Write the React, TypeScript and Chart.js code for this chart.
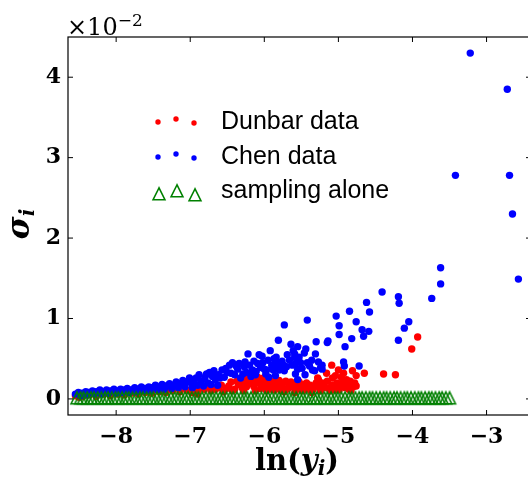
import React, { useEffect, useRef } from 'react';
import { Chart, registerables } from 'chart.js';

Chart.register(...registerables);

const xTicks = [-8, -7, -6, -5, -4, -3];
const yTicks = [0, 1, 2, 3, 4];
const xRange = [-8.65, -2.4];
const yRange = [-0.2, 4.5];
const seriesNames = ['Dunbar data', 'Chen data', 'sampling alone'];

const dunbarPoints: [number, number][] = [
  [-8.55, 0.04], [-8.5, 0.02], [-8.45, 0.03], [-8.36, 0.05], [-8.27, 0.03], [-8.17, 0.06], [-8.08, 0.04],
  [-7.98, 0.06], [-7.89, 0.05], [-7.8, 0.07], [-7.7, 0.06], [-7.61, 0.08], [-7.52, 0.07], [-7.42, 0.09],
  [-7.33, 0.08], [-7.3, 0.14], [-7.24, 0.1], [-7.14, 0.09], [-7.05, 0.11], [-6.98, 0.08], [-6.96, 0.1],
  [-6.9, 0.06], [-6.88, 0.13], [-6.81, 0.12], [-6.76, 0.15], [-6.72, 0.1], [-6.66, 0.12], [-6.62, 0.14],
  [-6.58, 0.17], [-6.55, 0.09], [-6.51, 0.13], [-6.48, 0.16], [-6.45, 0.21], [-6.43, 0.1], [-6.4, 0.12],
  [-6.37, 0.22], [-6.35, 0.18], [-6.32, 0.2], [-6.3, 0.14], [-6.28, 0.1], [-6.26, 0.22], [-6.24, 0.15],
  [-6.23, 0.27], [-6.2, 0.19], [-6.18, 0.26], [-6.16, 0.21], [-6.14, 0.15], [-6.12, 0.1], [-6.11, 0.24],
  [-6.09, 0.27], [-6.08, 0.2], [-6.06, 0.23], [-6.05, 0.13], [-6.03, 0.18], [-6.01, 0.26], [-5.99, 0.22],
  [-5.97, 0.1], [-5.96, 0.15], [-5.94, 0.25], [-5.92, 0.21], [-5.9, 0.12], [-5.89, 0.17], [-5.87, 0.22],
  [-5.86, 0.11], [-5.84, 0.2], [-5.82, 0.19], [-5.8, 0.23], [-5.79, 0.14], [-5.77, 0.1], [-5.76, 0.16],
  [-5.74, 0.2], [-5.73, 0.09], [-5.71, 0.22], [-5.7, 0.12], [-5.68, 0.13], [-5.66, 0.17], [-5.64, 0.21],
  [-5.62, 0.15], [-5.6, 0.18], [-5.59, 0.08], [-5.57, 0.12], [-5.55, 0.16], [-5.53, 0.21], [-5.51, 0.15],
  [-5.5, 0.11], [-5.48, 0.1], [-5.46, 0.18], [-5.44, 0.13], [-5.43, 0.2], [-5.4, 0.12], [-5.38, 0.17],
  [-5.36, 0.08], [-5.34, 0.12], [-5.31, 0.16], [-5.3, 0.2], [-5.28, 0.26], [-5.27, 0.24], [-5.25, 0.14],
  [-5.24, 0.1], [-5.22, 0.2], [-5.2, 0.18], [-5.19, 0.14], [-5.16, 0.32], [-5.15, 0.22], [-5.13, 0.13],
  [-5.11, 0.1], [-5.09, 0.42], [-5.09, 0.17], [-5.08, 0.26], [-5.06, 0.16], [-5.05, 0.11], [-5.04, 0.29],
  [-5.02, 0.2], [-5.0, 0.36], [-4.99, 0.11], [-4.98, 0.15], [-4.96, 0.27], [-4.95, 0.2], [-4.93, 0.32],
  [-4.91, 0.14], [-4.89, 0.24], [-4.87, 0.18], [-4.86, 0.12], [-4.84, 0.22], [-4.83, 0.1], [-4.81, 0.35],
  [-4.8, 0.15], [-4.78, 0.2], [-4.76, 0.29], [-4.76, 0.16], [-4.65, 0.32], [-4.39, 0.31], [-4.23, 0.3],
  [-4.01, 0.62], [-3.93, 0.77],
];

const chenPoints: [number, number][] = [
  [-8.55, 0.06], [-8.51, 0.08], [-8.48, 0.04], [-8.46, 0.07], [-8.41, 0.09], [-8.39, 0.05], [-8.37, 0.08],
  [-8.32, 0.1], [-8.29, 0.06], [-8.27, 0.09], [-8.22, 0.11], [-8.2, 0.06], [-8.18, 0.08], [-8.13, 0.11],
  [-8.1, 0.07], [-8.08, 0.1], [-8.03, 0.12], [-8.0, 0.07], [-7.99, 0.1], [-7.94, 0.12], [-7.91, 0.08],
  [-7.89, 0.11], [-7.85, 0.13], [-7.82, 0.08], [-7.8, 0.11], [-7.75, 0.14], [-7.72, 0.09], [-7.7, 0.12],
  [-7.66, 0.15], [-7.63, 0.1], [-7.61, 0.13], [-7.56, 0.15], [-7.54, 0.1], [-7.52, 0.14], [-7.47, 0.17],
  [-7.44, 0.11], [-7.42, 0.15], [-7.38, 0.18], [-7.35, 0.12], [-7.33, 0.16], [-7.28, 0.19], [-7.25, 0.13],
  [-7.23, 0.17], [-7.19, 0.21], [-7.16, 0.14], [-7.14, 0.19], [-7.1, 0.23], [-7.07, 0.15], [-7.05, 0.21],
  [-7.01, 0.26], [-6.98, 0.19], [-6.97, 0.14], [-6.94, 0.24], [-6.92, 0.26], [-6.9, 0.17], [-6.88, 0.3],
  [-6.85, 0.22], [-6.82, 0.16], [-6.8, 0.27], [-6.78, 0.31], [-6.76, 0.2], [-6.74, 0.33], [-6.72, 0.18],
  [-6.7, 0.28], [-6.68, 0.35], [-6.66, 0.24], [-6.63, 0.17], [-6.62, 0.3], [-6.6, 0.26], [-6.57, 0.36],
  [-6.54, 0.27], [-6.52, 0.38], [-6.5, 0.33], [-6.47, 0.42], [-6.45, 0.32], [-6.43, 0.45], [-6.4, 0.3],
  [-6.38, 0.41], [-6.36, 0.37], [-6.34, 0.44], [-6.32, 0.26], [-6.29, 0.31], [-6.27, 0.4], [-6.26, 0.46],
  [-6.24, 0.33], [-6.22, 0.56], [-6.2, 0.42], [-6.18, 0.28], [-6.16, 0.36], [-6.14, 0.47], [-6.12, 0.3],
  [-6.11, 0.34], [-6.09, 0.44], [-6.07, 0.55], [-6.05, 0.39], [-6.03, 0.53], [-6.02, 0.45], [-6.0, 0.37],
  [-5.98, 0.31], [-5.97, 0.36], [-5.95, 0.48], [-5.94, 0.27], [-5.92, 0.6], [-5.9, 0.42], [-5.88, 0.36],
  [-5.87, 0.5], [-5.85, 0.29], [-5.84, 0.52], [-5.84, 0.46], [-5.82, 0.4], [-5.81, 0.73], [-5.8, 0.36],
  [-5.78, 0.42], [-5.76, 0.47], [-5.74, 0.42], [-5.73, 0.92], [-5.73, 0.35], [-5.7, 0.4], [-5.69, 0.55],
  [-5.66, 0.48], [-5.64, 0.68], [-5.62, 0.42], [-5.61, 0.6], [-5.59, 0.56], [-5.59, 0.52], [-5.58, 0.31],
  [-5.57, 0.45], [-5.55, 0.65], [-5.55, 0.37], [-5.55, 0.24], [-5.53, 0.52], [-5.51, 0.45], [-5.49, 0.38],
  [-5.46, 0.57], [-5.45, 0.3], [-5.44, 0.62], [-5.42, 0.45], [-5.42, 0.98], [-5.39, 0.41], [-5.36, 0.48],
  [-5.35, 0.36], [-5.32, 0.35], [-5.31, 0.56], [-5.3, 0.71], [-5.27, 0.46], [-5.24, 0.39], [-5.22, 0.42],
  [-5.22, 0.37], [-5.15, 0.7], [-5.14, 0.72], [-5.03, 1.03], [-4.99, 0.91], [-4.99, 0.8], [-4.93, 0.46],
  [-4.92, 0.41], [-4.91, 0.65], [-4.85, 1.09], [-4.82, 0.75], [-4.76, 0.96], [-4.72, 0.41], [-4.68, 0.86],
  [-4.66, 0.78], [-4.62, 1.2], [-4.59, 0.84], [-4.58, 1.08], [-4.41, 1.33], [-4.19, 1.27], [-4.18, 1.19],
  [-4.19, 0.73], [-4.11, 0.88], [-4.05, 0.96], [-3.74, 1.25], [-3.62, 1.63], [-3.62, 1.43], [-3.42, 2.78],
  [-3.22, 4.3], [-2.72, 3.85], [-2.69, 2.78], [-2.65, 2.3], [-2.57, 1.49],
];

const samplingX = [
  -8.53, -8.48, -8.44, -8.39, -8.34, -8.3, -8.25, -8.2, -8.15, -8.11,
  -8.06, -8.01, -7.97, -7.92, -7.87, -7.83, -7.78, -7.73, -7.68, -7.64,
  -7.59, -7.54, -7.5, -7.45, -7.4, -7.36, -7.31, -7.26, -7.21, -7.17,
  -7.12, -7.07, -7.03, -6.98, -6.93, -6.89, -6.84, -6.79, -6.74, -6.7,
  -6.65, -6.6, -6.56, -6.51, -6.46, -6.42, -6.37, -6.32, -6.27, -6.23,
  -6.18, -6.13, -6.09, -6.04, -5.99, -5.95, -5.9, -5.85, -5.8, -5.76,
  -5.71, -5.66, -5.62, -5.57, -5.52, -5.48, -5.43, -5.38, -5.33, -5.29,
  -5.24, -5.19, -5.15, -5.1, -5.05, -5.01, -4.96, -4.91, -4.86, -4.82,
  -4.77, -4.72, -4.68, -4.63, -4.58, -4.54, -4.49, -4.44, -4.39, -4.35,
  -4.3, -4.25, -4.21, -4.16, -4.11, -4.07, -4.02, -3.97, -3.92, -3.88,
  -3.83, -3.78, -3.74, -3.69, -3.64, -3.6, -3.55, -3.5,
];
const samplingY = [
  0.01, 0.01, 0.01, 0.01, 0.01, 0.01, 0.01, 0.01, 0.01, 0.01,
  0.01, 0.01, 0.01, 0.01, 0.01, 0.01, 0.01, 0.01, 0.01, 0.01,
  0.01, 0.01, 0.01, 0.01, 0.01, 0.01, 0.01, 0.01, 0.01, 0.01,
  0.01, 0.01, 0.01, 0.01, 0.01, 0.01, 0.01, 0.01, 0.01, 0.01,
  0.01, 0.01, 0.01, 0.01, 0.01, 0.01, 0.01, 0.01, 0.01, 0.01,
  0.01, 0.01, 0.01, 0.01, 0.01, 0.01, 0.01, 0.01, 0.01, 0.01,
  0.01, 0.01, 0.01, 0.01, 0.01, 0.01, 0.01, 0.01, 0.01, 0.01,
  0.01, 0.01, 0.01, 0.01, 0.01, 0.01, 0.01, 0.01, 0.01, 0.01,
  0.01, 0.01, 0.01, 0.01, 0.01, 0.01, 0.01, 0.01, 0.01, 0.01,
  0.01, 0.01, 0.01, 0.01, 0.01, 0.01, 0.01, 0.01, 0.01, 0.01,
  0.01, 0.01, 0.01, 0.01, 0.01, 0.01, 0.01, 0.01,
];

const RED = '#ff0000';
const BLUE = '#0000ff';
const GREEN = '#008000';

function fmt(v: number): string {
  return v < 0 ? '\u2212' + Math.abs(v) : String(v);
}

type Seg = { t: string; font: string; dy?: number };

function drawSegs(ctx: CanvasRenderingContext2D, segs: Seg[], x: number, y: number, center: boolean) {
  let total = 0;
  for (const s of segs) {
    ctx.font = s.font;
    total += ctx.measureText(s.t).width;
  }
  let cx = center ? x - total / 2 : x;
  ctx.textAlign = 'left';
  ctx.textBaseline = 'alphabetic';
  for (const s of segs) {
    ctx.font = s.font;
    ctx.fillText(s.t, cx, y + (s.dy || 0));
    cx += ctx.measureText(s.t).width;
  }
}

export default function App() {
  const ref = useRef<HTMLCanvasElement>(null);

  useEffect(() => {
    if (!ref.current) return;
    const tri = document.createElement('canvas');
    tri.width = 16;
    tri.height = 16;
    const tc = tri.getContext('2d')!;
    tc.strokeStyle = GREEN;
    tc.lineWidth = 1.5;
    tc.lineJoin = 'miter';
    tc.beginPath();
    tc.moveTo(8, 1.8);
    tc.lineTo(2, 13.8);
    tc.lineTo(14, 13.8);
    tc.closePath();
    tc.stroke();

    const decor = {
      id: 'decor',
      afterDraw(chart: any) {
        const { ctx, chartArea: a, scales } = chart;
        const xs = scales.x;
        const ys = scales.y;
        ctx.save();
        ctx.strokeStyle = '#000';
        ctx.lineWidth = 1.2;
        ctx.strokeRect(a.left, a.top, a.right - a.left, a.bottom - a.top);
        const tl = 5;
        ctx.lineWidth = 1;
        ctx.beginPath();
        for (const t of xs.ticks) {
          const px = xs.getPixelForValue(t.value);
          ctx.moveTo(px, a.bottom);
          ctx.lineTo(px, a.bottom - tl);
          ctx.moveTo(px, a.top);
          ctx.lineTo(px, a.top + tl);
        }
        for (const t of ys.ticks) {
          const py = ys.getPixelForValue(t.value);
          ctx.moveTo(a.left, py);
          ctx.lineTo(a.left + tl, py);
          ctx.moveTo(a.right, py);
          ctx.lineTo(a.right - tl, py);
        }
        ctx.stroke();

        ctx.fillStyle = '#000';
        drawSegs(ctx, [
          { t: '\u00d710', font: '24px "DejaVu Serif"' },
          { t: '\u22122', font: '17px "DejaVu Serif"', dy: -9 },
        ], a.left - 1, 35, false);

        drawSegs(ctx, [
          { t: 'ln(', font: 'bold 29px "DejaVu Serif"' },
          { t: 'y', font: 'italic bold 29px "DejaVu Serif"' },
          { t: 'i', font: 'italic bold 20px "DejaVu Serif"', dy: 5 },
          { t: ')', font: 'bold 29px "DejaVu Serif"' },
        ], 297, 470, true);

        ctx.save();
        ctx.translate(29, 224);
        ctx.rotate(-Math.PI / 2);
        drawSegs(ctx, [
          { t: '\u03c3', font: 'italic bold 31px "DejaVu Serif"' },
          { t: 'i', font: 'italic bold 20px "DejaVu Serif"', dy: 5 },
        ], 0, 0, true);
        ctx.restore();

        const dotsX = [158, 176, 194];
        const dotsDy = [0, -3, 1];
        const rows = [122, 157];
        const cols = [RED, BLUE];
        for (let r = 0; r < 2; r++) {
          ctx.fillStyle = cols[r];
          for (let k = 0; k < 3; k++) {
            ctx.beginPath();
            ctx.arc(dotsX[k], rows[r] + dotsDy[k], 2.7, 0, Math.PI * 2);
            ctx.fill();
          }
        }
        const triY = 194;
        for (let k = 0; k < 3; k++) {
          ctx.drawImage(tri, dotsX[k] + 1 - 8, triY + dotsDy[k] - 8);
        }
        ctx.fillStyle = '#000';
        ctx.font = '25px "Liberation Sans"';
        ctx.textAlign = 'left';
        ctx.textBaseline = 'alphabetic';
        ctx.fillText(seriesNames[0], 221, 129);
        ctx.fillText(seriesNames[1], 221, 164);
        ctx.fillText(seriesNames[2], 221, 198);
        ctx.restore();
      },
    };

    const tickFont = { family: '"DejaVu Serif"', weight: 'bold' as const, size: 22 };

    const chart = new Chart(ref.current, {
      type: 'scatter',
      data: {
        datasets: [
          {
            label: seriesNames[0],
            data: dunbarPoints.map(([x, y]) => ({ x, y })),
            backgroundColor: RED,
            borderWidth: 0,
            pointRadius: 3.7,
            order: 3,
          },
          {
            label: seriesNames[1],
            data: chenPoints.map(([x, y]) => ({ x, y })),
            backgroundColor: BLUE,
            borderWidth: 0,
            pointRadius: 3.7,
            order: 2,
          },
          {
            label: seriesNames[2],
            data: samplingX.map((x, i) => ({ x, y: samplingY[i] })),
            pointStyle: tri as any,
            pointRadius: 6,
            order: 1,
          },
        ],
      },
      options: {
        animation: false,
        responsive: false,
        events: [],
        layout: { padding: { top: 37, left: 0, right: 9, bottom: 0 } },
        plugins: {
          legend: { display: false },
          tooltip: { enabled: false },
        },
        scales: {
          x: {
            type: 'linear',
            min: xRange[0],
            max: xRange[1],
            grid: { display: false, drawTicks: false },
            border: { display: false },
            afterBuildTicks: (s: any) => {
              s.ticks = xTicks.map((v) => ({ value: v }));
            },
            afterFit: (s: any) => {
              s.height = 66;
            },
            ticks: {
              font: tickFont,
              color: '#000',
              padding: 9,
              maxRotation: 0,
              callback: (v: any) => fmt(Number(v)),
            },
          },
          y: {
            type: 'linear',
            min: yRange[0],
            max: yRange[1],
            grid: { display: false, drawTicks: false },
            border: { display: false },
            afterBuildTicks: (s: any) => {
              s.ticks = yTicks.map((v) => ({ value: v }));
            },
            afterFit: (s: any) => {
              s.width = 68;
            },
            ticks: {
              font: tickFont,
              color: '#000',
              padding: 7,
              callback: (v: any) => fmt(Number(v)),
            },
          },
        },
      },
      plugins: [decor],
    });
    return () => chart.destroy();
  }, []);

  return (
    <div style={{ position: 'fixed', left: 0, top: 0, width: 528, height: 481, overflow: 'hidden', background: '#fff' }}>
      <canvas ref={ref} width={540} height={481} style={{ display: 'block' }} />
    </div>
  );
}
